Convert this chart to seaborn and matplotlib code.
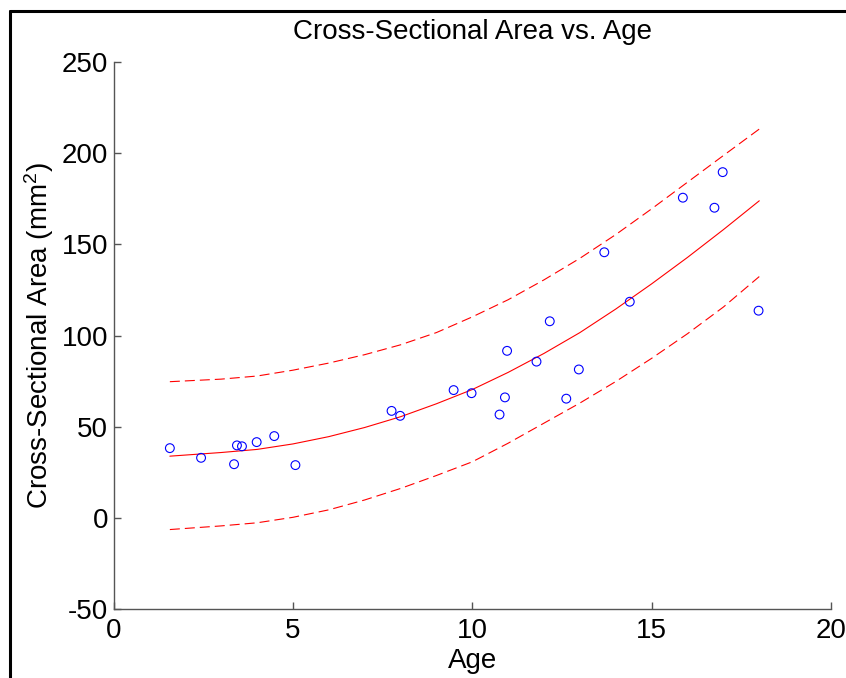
import matplotlib
matplotlib.use("Agg")
import matplotlib.pyplot as plt
from matplotlib.lines import Line2D
import seaborn as sns
import pandas as pd

# Observed data
age = [1.57, 2.44, 3.36, 3.44, 3.58, 3.99, 4.48, 5.07, 7.75, 7.99,
       9.48, 9.98, 10.76, 10.91, 10.97, 11.79, 12.16, 12.62, 12.97,
       13.68, 14.39, 15.87, 16.75, 16.98, 17.98]
area = [38.3, 33.0, 29.5, 39.8, 39.3, 41.6, 44.9, 29.0, 58.7, 56.0,
        70.1, 68.4, 56.7, 66.1, 91.6, 85.7, 107.8, 65.4, 81.4,
        145.6, 118.5, 175.5, 170.0, 189.5, 113.6]

# Fitted curve and prediction bounds
fit_age = [1.57, 3, 4, 5, 6, 7, 8, 9, 10, 11, 12, 13, 14, 15, 16, 17, 18]
fit_mid = [33.9, 35.9, 37.6, 40.6, 44.6, 49.6, 55.5, 62.6, 70.4, 79.8,
           90.2, 101.6, 114.5, 128.3, 142.8, 158.0, 173.8]
fit_upper = [74.7, 76.1, 77.8, 81.0, 84.9, 89.5, 94.9, 101.6, 110.2, 119.6,
             130.5, 142.3, 155.3, 169.4, 184.0, 198.6, 213.1]
fit_lower = [-6.3, -4.3, -2.6, 0.4, 4.5, 9.9, 16.2, 23.3, 30.8, 41.0,
             52.0, 63.0, 74.8, 87.5, 101.0, 115.6, 132.3]

x_ticks = [0, 5, 10, 15, 20]
y_ticks = [-50, 0, 50, 100, 150, 200, 250]

sns.set_style("white")
plt.rcParams["font.family"] = ["Liberation Sans", "DejaVu Sans"]
plt.rcParams["mathtext.default"] = "regular"
plt.rcParams["lines.scale_dashes"] = False
plt.rcParams["text.color"] = "black"
plt.rcParams["axes.labelcolor"] = "black"

fig = plt.figure(figsize=(8.46, 6.78), dpi=100)
ax = fig.add_axes([0.1342, 0.1013, 0.8481, 0.8077])

pts = pd.DataFrame({"Age": age, "Area": area})
curves = pd.DataFrame({"Age": fit_age, "mid": fit_mid,
                       "upper": fit_upper, "lower": fit_lower})

sns.lineplot(data=curves, x="Age", y="mid", ax=ax, color="#ff0000",
             linewidth=0.8, estimator=None, sort=False)
for col in ["upper", "lower"]:
    sns.lineplot(data=curves, x="Age", y=col, ax=ax, color="#ff0000",
                 linewidth=0.8, estimator=None, sort=False)
    ax.lines[-1].set_dashes((7.2, 3.6))

sns.scatterplot(data=pts, x="Age", y="Area", ax=ax, marker="o",
                facecolor="none", edgecolor="#0000ff", linewidth=0.8,
                s=40, zorder=3)

ax.set_xlim(0, 20)
ax.set_ylim(-50, 250)
ax.set_xticks(x_ticks)
ax.set_yticks(y_ticks)
ax.set_xticklabels([str(v) for v in x_ticks])
ax.set_yticklabels([str(v) for v in y_ticks])

for side in ["top", "right"]:
    ax.spines[side].set_visible(False)
for side in ["left", "bottom"]:
    ax.spines[side].set_color("#555555")
    ax.spines[side].set_linewidth(1.0)

ax.tick_params(axis="both", which="major", direction="in", length=5,
               width=1.0, color="#555555", labelsize=20,
               labelcolor="black", bottom=True, left=True)
ax.tick_params(axis="x", pad=6)
ax.tick_params(axis="y", pad=4)

ax.set_title("Cross-Sectional Area vs. Age", fontsize=20, pad=16,
             color="black")
ax.set_xlabel("Age", fontsize=20, labelpad=3, color="black")
ax.set_ylabel("Cross-Sectional Area (mm$^2$)", fontsize=20, labelpad=4,
              color="black")

# screenshot frame lines (left and top)
fig.add_artist(Line2D([0.0115, 0.0115], [0.0, 0.9838], color="black",
                      linewidth=2.2, transform=fig.transFigure))
fig.add_artist(Line2D([0.0115, 1.0], [0.9838, 0.9838], color="black",
                      linewidth=2.2, transform=fig.transFigure))

fig.savefig("out.png", dpi=100, facecolor="white")
